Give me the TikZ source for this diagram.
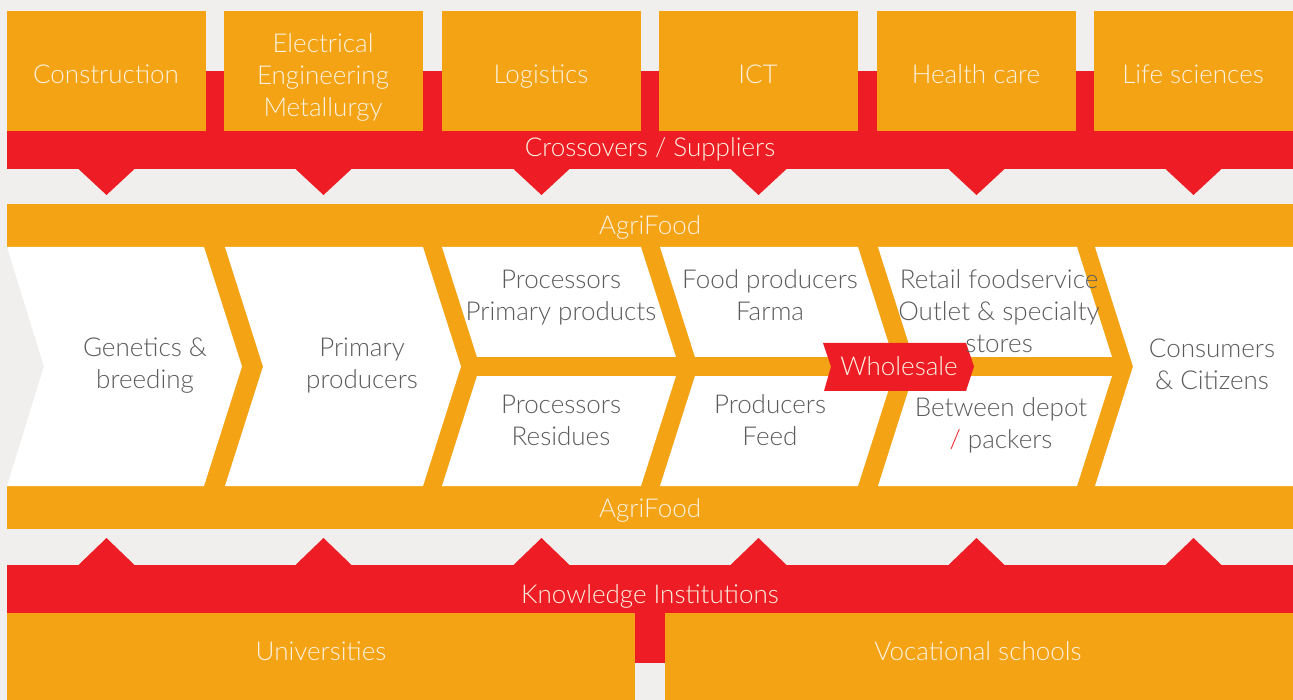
\documentclass[tikz,border=0pt]{standalone}
\usepackage{fontspec}
\setmainfont{Lato}[UprightFont={* Light}]
\definecolor{bg}{HTML}{F0EFED}
\definecolor{org}{HTML}{F3A313}
\definecolor{rd}{HTML}{EE1C25}
\definecolor{txtw}{HTML}{FAF1E0}
\definecolor{txtg}{HTML}{5A5B5D}
\begin{document}
\begin{tikzpicture}[x=1pt,y=-1pt,
  lbl/.style={font=\fontsize{26}{32}\selectfont, align=center, inner sep=0pt},
  wlbl/.style={lbl, text=txtw},
  glbl/.style={lbl, text=txtg},
  sl/.style={wlbl, anchor=base},
  obox/.style={fill=org},
  rfill/.style={fill=rd}]
\fill[bg] (0,0) rectangle (1293,700);
\useasboundingbox (0,0) rectangle (1293,700);
% top red band
\fill[rfill] (7,71) rectangle (1293,169);
% top boxes and triangles
\foreach \a/\b in {7/206,224/423,442/641,659/858,877/1076,1094/1293}{
  \fill[obox] (\a,11) rectangle (\b,131);
  \pgfmathsetmacro{\c}{(\a+\b)/2}
  \fill[rfill] (\c-28,169) -- (\c,195) -- (\c+28,169) -- cycle;
  \fill[rfill] (\c-28,565) -- (\c,538) -- (\c+28,565) -- cycle;
}
% agrifood orange bands and middle
\fill[obox] (7,204) rectangle (1293,248);
\fill[obox] (7,485) rectangle (1293,529);
\fill[obox] (60,246) rectangle (1293,487);
% white chevrons
\fill[white] (7,247) -- (204,247) -- (242,366.5) -- (204,486) -- (7,486) -- (44,366.5) -- cycle;
\foreach \L/\R in {225/423,442/641,660/858,878/1077}{
  \fill[white] (\L,247) -- (\R,247) -- (\R+38,366.5) -- (\R,486) -- (\L,486) -- (\L+38,366.5) -- cycle;
}
\fill[white] (1095,247) -- (1293,247) -- (1293,486) -- (1095,486) -- (1133,366.5) -- cycle;
% horizontal split strip
\fill[obox] (466,357) rectangle (1122,376);
% wholesale tag
\fill[rfill] (823,343) -- (966,343) -- (974,366.5) -- (966,391) -- (824,391) -- (831,366.5) -- cycle;
% bottom
\fill[rfill] (7,565) rectangle (1293,613);
\fill[rfill] (635,613) rectangle (665,663);
\fill[obox] (7,613) rectangle (635,700);
\fill[obox] (665,613) rectangle (1293,700);
% labels
\node[sl] (constr) at (106,84) {Construction};
\node[wlbl] (elec) at (323,77) {Electrical\\Engineering\\Metallurgy};
\node[sl] (logi) at (541,84) {Logistics};
\node[sl] (ict) at (758,84) {ICT};
\node[sl] (health) at (976,84) {Health care};
\node[sl] (life) at (1193,84) {Life sciences};
\node[sl] (cross) at (650,157) {Crossovers / Suppliers};
\node[sl] (agri1) at (650,234.5) {AgriFood};
\node[sl] (agri2) at (650,517.5) {AgriFood};
\node[glbl] (gen) at (145,366) {Genetics \&\\breeding};
\node[glbl] (prim) at (362,366) {Primary\\producers};
\node[glbl] (procp) at (561,298) {Processors\\Primary products};
\node[glbl] (food) at (770,295) {Food producers\\Farma};
\node[glbl] (retail) at (999,311) {Retail foodservice\\Outlet \& specialty\\stores};
\node[glbl] (procr) at (561,420) {Processors\\Residues};
\node[glbl] (feed) at (770,420) {Producers\\Feed};
\node[glbl] (depot) at (1001,425) {Between depot\\{\color{rd}/} packers};
\node[glbl] (cons) at (1212,364) {Consumers\\\& Citizens};
\node[sl] (whole) at (899,375.5) {Wholesale};
\node[sl] (know) at (650,603) {Knowledge Institutions};
\node[sl] (univ) at (321,660.5) {Universities};
\node[sl] (voc) at (978,660.5) {Vocational schools};
\end{tikzpicture}
\end{document}
